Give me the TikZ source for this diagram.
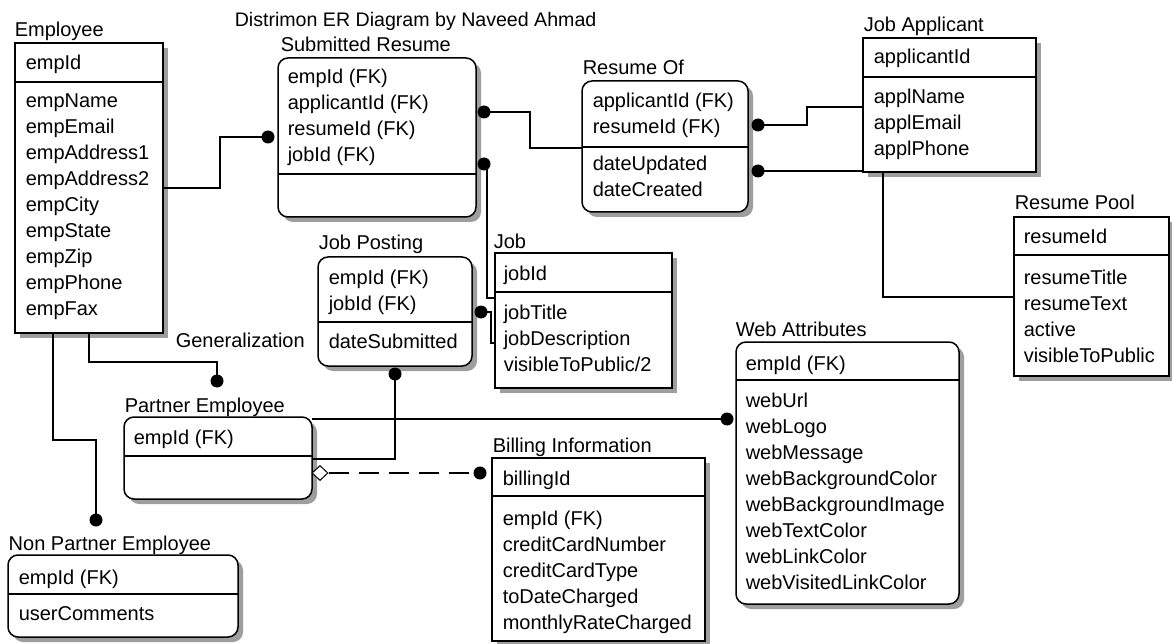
\documentclass[tikz,border=0pt]{standalone}
\usepackage{fontspec}
\setmainfont{Liberation Sans}
\usetikzlibrary{shapes.geometric}
\newcommand\entbox[8]{%
  \node[shd, #8, minimum width={#5-#3}, minimum height={#6-#4}] (#1s) at (#3+5,#4+5) {};
  \node[ent, #8, minimum width={#5-#3}, minimum height={#6-#4}] (#1) at (#3,#4) {};
  \draw[sepline] (#1.west |- 0,#7) -- (#1.east |- 0,#7);
}
\newcommand\rowsat[4]{%
  \foreach \tx [count=\i from 0] in {#4} {\node[txt] (#1\i) at (#2, #3+26*\i) {\tx};}
}
\begin{document}
\begin{tikzpicture}[x=1pt,y=-1pt, line width=1.5pt,
  ent/.style={draw, fill=white, anchor=north west, inner sep=0pt, outer sep=0pt},
  shd/.style={fill=black!38, draw=none, anchor=north west, inner sep=0pt, outer sep=0pt},
  rnd/.style={rounded corners=10pt},
  sq/.style={sharp corners},
  sepline/.style={line width=1.5pt},
  txt/.style={anchor=base west, inner sep=0pt, font=\fontsize{20}{26}\selectfont},
  dot/.style={circle, fill=black, inner sep=0pt, minimum size=13pt},
  conn/.style={line width=1.5pt}
]
\useasboundingbox[fill=white] (0,0) rectangle (1172,644);

% title
\node[txt, font=\fontsize{19.6}{26}\selectfont] (title) at (234,27) {Distrimon ER Diagram by Naveed Ahmad};

% Employee
\entbox{emp}{}{15}{43}{163}{333}{82}{sq}
\node[txt] (empt) at (14,37) {Employee};
\rowsat{empk}{25}{70}{empId}
\rowsat{empa}{25}{108}{empName,empEmail,empAddress1,empAddress2,empCity,empState,empZip,empPhone,empFax}

% Submitted Resume
\entbox{sr}{}{278}{58}{476}{217}{174}{rnd}
\node[txt] (srt) at (280,52) {Submitted Resume};
\rowsat{srk}{287}{84}{empId (FK),applicantId (FK),resumeId (FK),jobId (FK)}

% Resume Of
\entbox{ro}{}{582}{81}{748}{212}{147}{rnd}
\node[txt] (rot) at (582,75) {Resume Of};
\rowsat{rok}{592}{108}{applicantId (FK),resumeId (FK)}
\rowsat{roa}{592}{171}{dateUpdated,dateCreated}

% Job Applicant
\entbox{ja}{}{863}{38}{1036}{172}{77}{sq}
\node[txt] (jat) at (863,32) {Job Applicant};
\rowsat{jak}{873}{64}{applicantId}
\rowsat{jaa}{873}{104}{applName,applEmail,applPhone}

% Resume Pool
\entbox{rp}{}{1014}{217}{1169}{376}{255}{sq}
\node[txt] (rpt) at (1014,210) {Resume Pool};
\rowsat{rpk}{1023}{244}{resumeId}
\rowsat{rpa}{1023}{284}{resumeTitle,resumeText,active,visibleToPublic}

% Job Posting
\entbox{jp}{}{318}{257}{472}{366}{322}{rnd}
\node[txt] (jpt) at (318,250) {Job Posting};
\rowsat{jpk}{328}{284}{empId (FK),jobId (FK)}
\rowsat{jpa}{328}{348}{dateSubmitted}

% Job
\entbox{job}{}{495}{253}{672}{388}{292}{sq}
\node[txt] (jobt) at (493,249) {Job};
\rowsat{jobk}{503}{280}{jobId}
\rowsat{joba}{503}{319}{jobTitle,jobDescription,visibleToPublic/2}

% Partner Employee
\entbox{pe}{}{124}{417}{312}{499}{456}{rnd}
\node[txt] (pet) at (124,412) {Partner Employee};
\rowsat{pek}{133}{444}{empId (FK)}

% Billing Information
\entbox{bi}{}{492}{458}{705}{641}{496}{sq}
\node[txt] (bit) at (492,452) {Billing Information};
\rowsat{bik}{502}{485}{billingId}
\rowsat{bia}{502}{525}{empId (FK),creditCardNumber,creditCardType,toDateCharged,monthlyRateCharged}

% Web Attributes
\entbox{wa}{}{736}{342}{959}{604}{380}{rnd}
\node[txt] (wat) at (735,336) {Web Attributes};
\rowsat{wak}{745}{370}{empId (FK)}
\rowsat{waa}{745}{407}{webUrl,webLogo,webMessage,webBackgroundColor,webBackgroundImage,webTextColor,webLinkColor,webVisitedLinkColor}

% Non Partner Employee
\entbox{np}{}{8}{555}{238}{637}{594}{rnd}
\node[txt] (npt) at (8,550) {Non Partner Employee};
\rowsat{npk}{18}{584}{empId (FK)}
\rowsat{npa}{18}{620}{userComments}

\node[txt] (gen) at (175,347) {Generalization};

% dots
\node[dot] (dsrl) at (268,137) {};
\node[dot] (dsr1) at (484,112) {};
\node[dot] (dsr2) at (484,164) {};
\node[dot] (djpr) at (481,312) {};
\node[dot] (djpb) at (395,374) {};
\node[dot] (dro1) at (758,125) {};
\node[dot] (dro2) at (758,171) {};
\node[dot] (dgen) at (217,381) {};
\node[dot] (dnp) at (96,520) {};
\node[dot] (dweb) at (727,419) {};
\node[dot] (dbill) at (480,473) {};
\node[diamond, draw, fill=white, inner sep=0pt, minimum width=16pt, minimum height=15pt, line width=1pt] (dia) at (320,473) {};

% connectors
\draw[conn] (emp.east |- 0,188) -- (220,188) -- (220,137) -- (dsrl.center);
\draw[conn] (dsr1.center) -- (530,112) -- (530,148) -- (ro.west |- 0,148);
\draw[conn] (dsr2.center) -- (487,164) -- (487,298) -- (job.west |- 0,298);
\draw[conn] (djpr.center) -- (491,312) -- (491,343) -- (job.west |- 0,343);
\draw[conn] (dro1.center) -- (807,125) -- (807,107) -- (ja.west |- 0,107);
\draw[conn] (dro2.center) -- (ja.west |- 0,171);
\draw[conn] (883,172) -- (883,297) -- (rp.west |- 0,297);
\draw[conn] (89,333) -- (89,362) -- (217,362) -- (dgen.center);
\draw[conn] (53,333) -- (53,440) -- (96,440) -- (dnp.center);
\draw[conn] (pe.east |- 0,419) -- (dweb.center);
\draw[conn] (djpb.center) -- (395,459) -- (pe.east |- 0,459);
\draw[conn, dash pattern=on 20pt off 10pt] (dia.east) -- (dbill.center);
\end{tikzpicture}
\end{document}
